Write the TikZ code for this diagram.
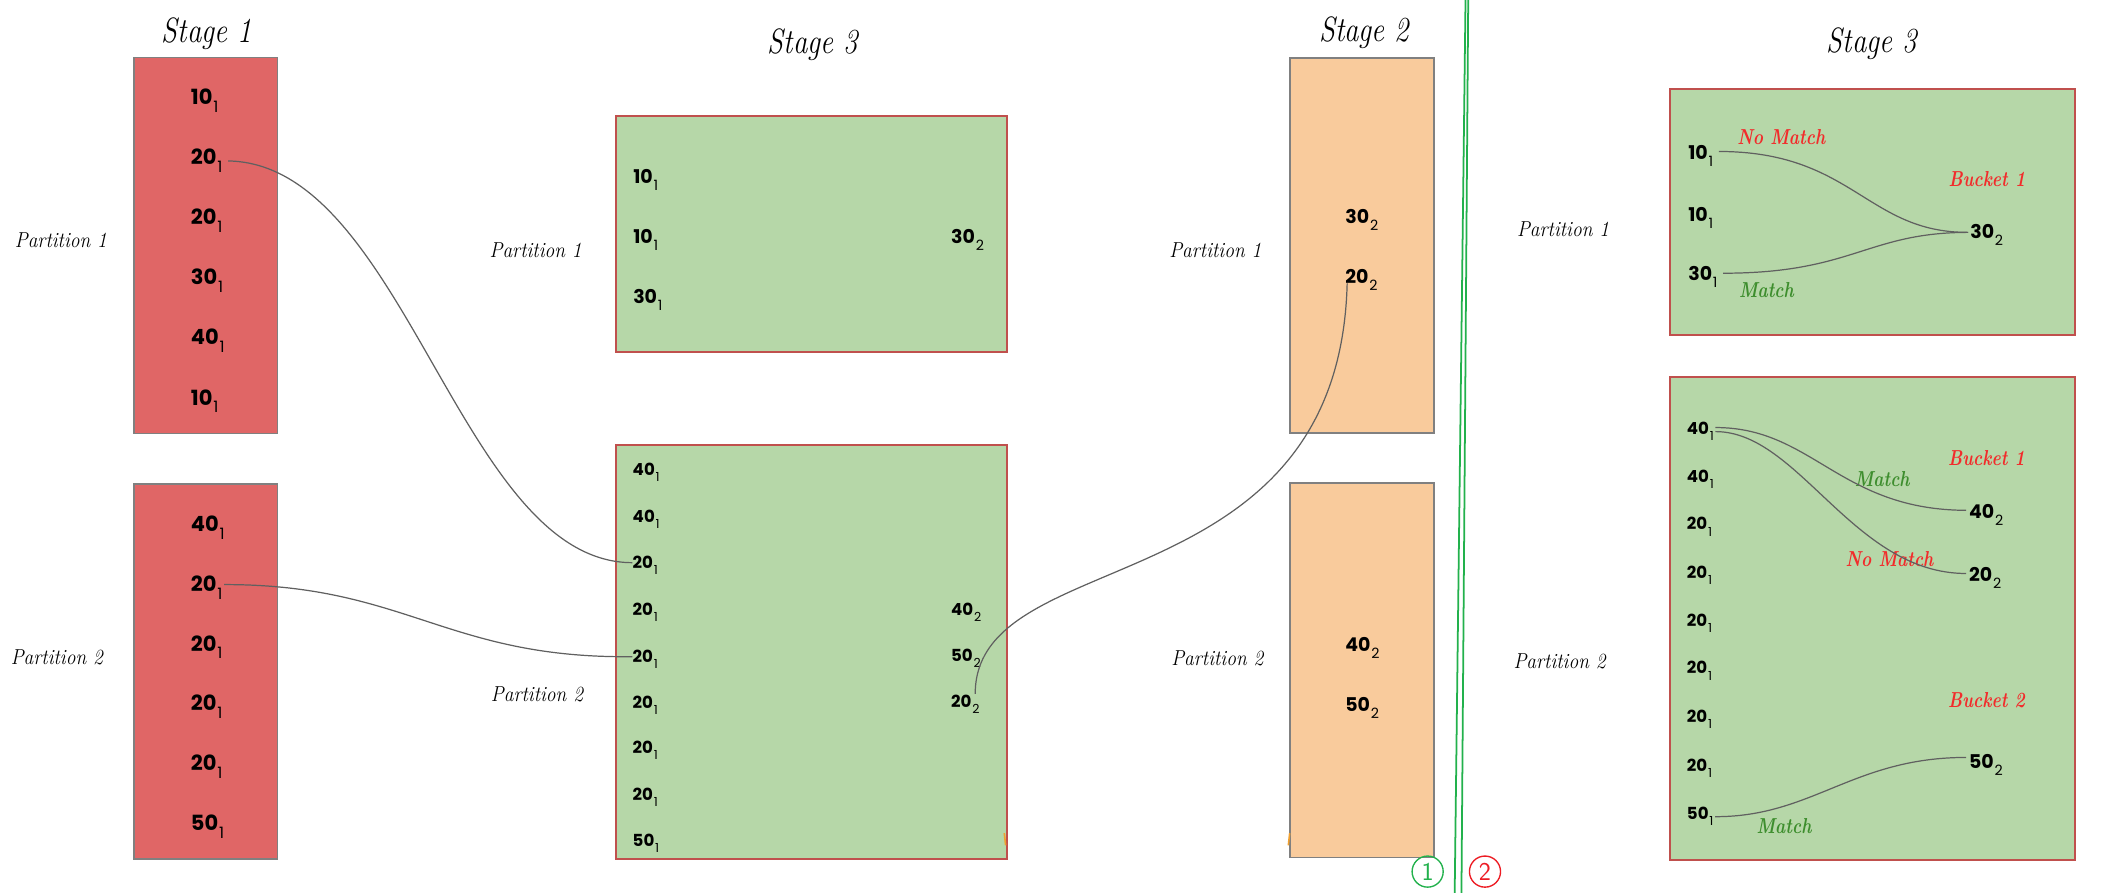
\documentclass[tikz,border=0pt]{standalone}
\usepackage{fontspec}
\newfontfamily\numfont{Poppins}
\usetikzlibrary{calc}
\definecolor{redfill}{HTML}{E06666}
\definecolor{greenfill}{HTML}{B6D7A8}
\definecolor{orangefill}{HTML}{F9CB9C}
\definecolor{boxgray}{HTML}{808080}
\definecolor{greenedge}{HTML}{C0504D}
\definecolor{linkgray}{HTML}{606060}
\definecolor{labred}{HTML}{F22B2B}
\definecolor{labgreen}{HTML}{3E8E2E}
\definecolor{sepgreen}{HTML}{22B14C}
\definecolor{markred}{HTML}{ED1C24}
\definecolor{markorange}{HTML}{F0A030}
\newcommand\sbs[1]{\raisebox{-0.37em}{\scalebox{0.75}{\mdseries #1}}}
\newcommand\itm[2]{#1\kern0.6pt\sbs{#2}}
\begin{document}
\begin{tikzpicture}[x=1pt,y=-1pt,
  redbox/.style={fill=redfill,draw=boxgray,line width=1.2pt},
  orangebox/.style={fill=orangefill,draw=boxgray,line width=1.2pt},
  greenbox/.style={fill=greenfill,draw=greenedge,line width=1.5pt},
  title/.style={font=\fontsize{26}{26}\selectfont\itshape,anchor=base,inner sep=0pt,xscale=0.82},
  part/.style={font=\fontsize{16}{16}\selectfont\itshape,anchor=base,inner sep=0pt,xscale=0.9},
  tagred/.style={font=\fontsize{16}{16}\selectfont\bfseries\itshape,anchor=base,inner sep=0pt,xscale=0.8,text=labred},
  taggreen/.style={font=\fontsize{16}{16}\selectfont\bfseries\itshape,anchor=base,inner sep=0pt,xscale=0.8,text=labgreen},
  numA/.style={font=\numfont\bfseries\fontsize{15.5}{16}\selectfont,anchor=west,inner sep=0pt,text height=10.9pt,text depth=0pt},
  numB/.style={font=\numfont\bfseries\fontsize{14}{15}\selectfont,anchor=west,inner sep=0pt,text height=9.8pt,text depth=0pt},
  numC/.style={font=\numfont\bfseries\fontsize{12.3}{13}\selectfont,anchor=west,inner sep=0pt,text height=8.6pt,text depth=0pt},
  link/.style={draw=linkgray,line width=0.9pt},
  sepline/.style={draw=sepgreen,line width=1.3pt},
  circmark/.style={circle,line width=1pt,minimum size=23pt,inner sep=0pt,font=\sffamily\fontsize{19}{19}\selectfont}
]
\fill[white] (0,0) rectangle (1560,660.23);
\useasboundingbox (0,0) rectangle (1560,660.23);

% ---------- boxes ----------
\draw[redbox] (99,42.6) rectangle (205.3,320.4);
\draw[redbox] (99,358) rectangle (205.3,635);
\draw[greenbox] (455.5,86) rectangle (744.5,260);
\draw[greenbox] (455.5,329) rectangle (744.5,635);
\draw[orangebox] (953.7,43) rectangle (1060,320);
\draw[orangebox] (953.7,357) rectangle (1060,634);
\draw[greenbox] (1234.6,66) rectangle (1534,247.7);
\draw[greenbox] (1234.6,278.8) rectangle (1534,635.8);

% ---------- titles ----------
\node[title] (t1) at (153,31.5) {Stage 1};
\node[title] (t3a) at (601,39.4) {Stage 3};
\node[title] (t2) at (1008.6,30.8) {Stage 2};
\node[title] (t3b) at (1384,39) {Stage 3};

% ---------- partition labels ----------
\node[part] (p1a) at (45,183) {Partition 1};
\node[part] (p2a) at (42,491) {Partition 2};
\node[part] (p1b) at (396,190.3) {Partition 1};
\node[part] (p2b) at (397,518.5) {Partition 2};
\node[part] (p1c) at (898.5,190.5) {Partition 1};
\node[part] (p2c) at (900,492) {Partition 2};
\node[part] (p1d) at (1155.6,174.5) {Partition 1};
\node[part] (p2d) at (1153,494) {Partition 2};

% ---------- Stage 1 ----------
\node[numA] (r1a) at (141,72)    {\itm{10}{1}};
\node[numA] (r1b) at (141,116.4) {\itm{20}{1}};
\node[numA] (r1c) at (141,160.8) {\itm{20}{1}};
\node[numA] (r1d) at (141,205.2) {\itm{30}{1}};
\node[numA] (r1e) at (141,249.6) {\itm{40}{1}};
\node[numA] (r1f) at (141,294)   {\itm{10}{1}};
\node[numA] (r2a) at (141,387.5) {\itm{40}{1}};
\node[numA] (r2b) at (141,431.7) {\itm{20}{1}};
\node[numA] (r2c) at (141,475.9) {\itm{20}{1}};
\node[numA] (r2d) at (141,520.1) {\itm{20}{1}};
\node[numA] (r2e) at (141,564.3) {\itm{20}{1}};
\node[numA] (r2f) at (141,608.5) {\itm{50}{1}};

% ---------- Stage 3 (left) ----------
\node[numB] (g1a) at (468,130.6) {\itm{10}{1}};
\node[numB] (g1b) at (468,175)   {\itm{10}{1}};
\node[numB] (g1c) at (468,219.3) {\itm{30}{1}};
\node[numB] (g1r) at (703,175)   {\itm{30}{2}};
\node[numC] (g2a) at (467.6,347.5) {\itm{40}{1}};
\node[numC] (g2b) at (467.6,382)   {\itm{40}{1}};
\node[numC] (g2c) at (467.6,416)   {\itm{20}{1}};
\node[numC] (g2d) at (467.6,451)   {\itm{20}{1}};
\node[numC] (g2e) at (467.6,485.5) {\itm{20}{1}};
\node[numC] (g2f) at (467.6,519.6) {\itm{20}{1}};
\node[numC] (g2g) at (467.6,553)   {\itm{20}{1}};
\node[numC] (g2h) at (467.6,587.7) {\itm{20}{1}};
\node[numC] (g2i) at (467.6,621.7) {\itm{50}{1}};
\node[numC] (g2r1) at (703,451) {\itm{40}{2}};
\node[numC] (g2r2) at (703,485) {\itm{50}{2}};
\node[numC] (g2r3) at (703,519) {\itm{20}{2}};

% ---------- Stage 2 ----------
\node[numB] (o1a) at (994.5,160.7) {\itm{30}{2}};
\node[numB] (o1b) at (994.5,204.5) {\itm{20}{2}};
\node[numB] (o2a) at (994.5,477)   {\itm{40}{2}};
\node[numB] (o2b) at (994.5,521)   {\itm{50}{2}};

% ---------- Stage 3 (right) ----------
\node[numB] (g3a) at (1248,113)   {\itm{10}{1}};
\node[numB] (g3b) at (1248,159.2) {\itm{10}{1}};
\node[numB] (g3c) at (1248,202.6) {\itm{30}{1}};
\node[numB] (g3r) at (1456.5,171.3) {\itm{30}{2}};
\node[tagred]   (g3nm) at (1317,107)   {No Match};
\node[tagred]   (g3bk) at (1469,137.7) {Bucket 1};
\node[taggreen] (g3m)  at (1306,219.8) {Match};

\node[numC] (g4a) at (1247,316.6) {\itm{40}{1}};
\node[numC] (g4b) at (1247,352.5) {\itm{40}{1}};
\node[numC] (g4c) at (1247,387.5) {\itm{20}{1}};
\node[numC] (g4d) at (1247,423.4) {\itm{20}{1}};
\node[numC] (g4e) at (1247,459)   {\itm{20}{1}};
\node[numC] (g4f) at (1247,494)   {\itm{20}{1}};
\node[numC] (g4g) at (1247,529.9) {\itm{20}{1}};
\node[numC] (g4h) at (1247,566)   {\itm{20}{1}};
\node[numC] (g4i) at (1247,601.8) {\itm{50}{1}};
\node[numB] (g4r1) at (1455.6,378.3) {\itm{40}{2}};
\node[numB] (g4r2) at (1455.6,425)   {\itm{20}{2}};
\node[numB] (g4r3) at (1455.6,563)   {\itm{50}{2}};
\node[tagred]   (g4bk1) at (1468.7,344) {Bucket 1};
\node[taggreen] (g4m1)  at (1391.6,359.8) {Match};
\node[tagred]   (g4nm)  at (1397,419) {No Match};
\node[tagred]   (g4bk2) at (1468.7,523) {Bucket 2};
\node[taggreen] (g4m2)  at (1319,616) {Match};

% ---------- connectors (left) ----------
\draw[link] ($(r1b.east)+(4,2.6)$) .. controls (300,121) and (340,416) .. (g2c.west);
\draw[link] ($(r2b.east)+(1,0.5)$) .. controls (300,432) and (330,487) .. (g2e.west);
\draw[link] ($(o1b.west)+(1.5,5)$) .. controls (990,450) and (721,400) .. ($(g2r3.west)+(18,-6)$);

% ---------- connectors (right) ----------
\draw[link] ($(g3a.east)+(4,-1)$) .. controls (1370,112) and (1380,172) .. ($(g3r.west)+(-1.5,0.5)$);
\draw[link] ($(g3c.east)+(4,-0.6)$) .. controls (1370,202) and (1380,172) .. ($(g3r.west)+(-1.5,0.5)$);
\draw[link] ($(g4a.east)+(1,-0.5)$) .. controls (1340,316) and (1360,377) .. ($(g4r1.west)+(-2,-1)$);
\draw[link] ($(g4a.east)+(1,2.5)$) .. controls (1330,319) and (1370,424) .. ($(g4r2.west)+(-2,-1)$);
\draw[link] ($(g4i.east)+(1,2)$) .. controls (1340,604) and (1370,560) .. ($(g4r3.west)+(-2,-3)$);

% ---------- separator and markers ----------
\draw[sepline] (1083.5,0) -- (1075.5,660.23);
\draw[sepline] (1085.5,0) -- (1080.5,660.23);
\node[circmark,draw=sepgreen,text=sepgreen] (m1) at (1055.5,644.4) {1};
\node[circmark,draw=markred,text=markred] (m2) at (1097.9,644.4) {2};
\draw[markorange,line width=1.2pt] (742.5,616) -- (743.5,625);
\draw[markorange,line width=1.2pt] (953.5,616) -- (952.5,625);
\end{tikzpicture}
\end{document}
